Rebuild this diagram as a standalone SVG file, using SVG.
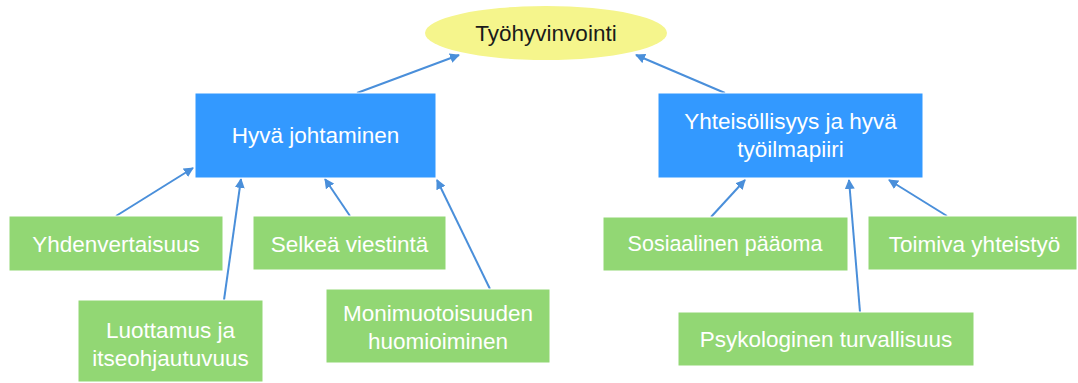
<svg xmlns="http://www.w3.org/2000/svg" width="1078" height="383" viewBox="0 0 1078 383">
<defs>
<style>
.t{font-family:"Liberation Sans",Arial,sans-serif;font-size:22.5px;text-anchor:middle}
.w{fill:#ffffff}
.blue{fill:#3399FF;stroke:#ffffff;stroke-width:1}
.green{fill:#92D774;stroke:#ffffff;stroke-width:1}
.c{stroke:#4A8FDA;stroke-width:2;fill:none;marker-end:url(#ah)}
</style>
<marker id="ah" viewBox="0 0 10 10" refX="9" refY="5" markerWidth="5" markerHeight="5" orient="auto" markerUnits="strokeWidth">
<path d="M0,0 L10,5 L0,10 Z" fill="#4A8FDA"/>
</marker>
</defs>
<rect width="1078" height="383" fill="#ffffff"/>
<g id="connectors">
<line class="c" x1="357" y1="93" x2="459" y2="55"/>
<line class="c" x1="725" y1="93" x2="636" y2="55"/>
<line class="c" x1="116" y1="216" x2="193" y2="168"/>
<line class="c" x1="224" y1="300" x2="241" y2="179"/>
<line class="c" x1="350" y1="216" x2="325" y2="179"/>
<line class="c" x1="490" y1="289" x2="437" y2="180"/>
<line class="c" x1="711" y1="217" x2="745" y2="180"/>
<line class="c" x1="860" y1="312" x2="849" y2="180"/>
<line class="c" x1="947" y1="216" x2="889" y2="180"/>
</g>
<g id="n-tyohyvinvointi">
<ellipse cx="546" cy="33" rx="121" ry="27" fill="#F5F58C"/>
<text class="t" x="546" y="41" fill="#1a1a1a">Työhyvinvointi</text>
</g>
<g id="n-hyva-johtaminen">
<rect class="blue" x="195" y="93" width="241" height="85"/>
<text class="t w" x="315.5" y="143">Hyvä johtaminen</text>
</g>
<g id="n-yhteisollisyys">
<rect class="blue" x="658" y="93" width="265" height="85"/>
<text class="t w" x="790.5" y="129">Yhteisöllisyys ja hyvä</text>
<text class="t w" x="790.5" y="157">työilmapiiri</text>
</g>
<g id="n-yhdenvertaisuus">
<rect class="green" x="9" y="216" width="214" height="55"/>
<text class="t w" x="116" y="252">Yhdenvertaisuus</text>
</g>
<g id="n-selkea">
<rect class="green" x="253" y="216" width="193" height="54"/>
<text class="t w" x="349.5" y="252">Selkeä viestintä</text>
</g>
<g id="n-luottamus">
<rect class="green" x="78" y="300" width="185" height="82"/>
<text class="t w" x="170.5" y="338">Luottamus ja</text>
<text class="t w" x="170.5" y="366">itseohjautuvuus</text>
</g>
<g id="n-monimuotoisuus">
<rect class="green" x="326" y="289" width="224" height="74"/>
<text class="t w" x="438" y="321">Monimuotoisuuden</text>
<text class="t w" x="438" y="349">huomioiminen</text>
</g>
<g id="n-sosiaalinen">
<rect class="green" x="603" y="217" width="245" height="54"/>
<text class="t w" x="725" y="251" style="font-size:21.5px">Sosiaalinen pääoma</text>
</g>
<g id="n-toimiva">
<rect class="green" x="868" y="216" width="209" height="54"/>
<text class="t w" x="974.5" y="252">Toimiva yhteistyö</text>
</g>
<g id="n-psykologinen">
<rect class="green" x="678" y="312" width="296" height="54"/>
<text class="t w" x="826" y="347">Psykologinen turvallisuus</text>
</g>
</svg>
